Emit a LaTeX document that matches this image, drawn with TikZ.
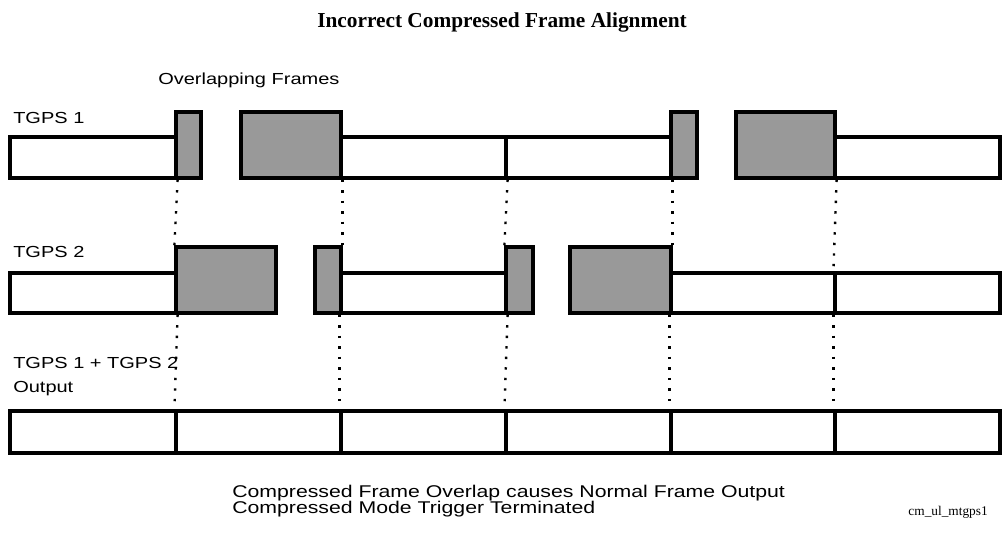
\documentclass[tikz,border=0pt]{standalone}
\usepackage{fontspec}
\usetikzlibrary{positioning, fit}
\newfontfamily\sansfnt{Liberation Sans}[FakeStretch=1.25]
\newfontfamily\seriffnt{Liberation Serif}
\definecolor{FG}{RGB}{153,153,153}

\begin{document}
\begin{tikzpicture}[x=0.75pt, y=-0.75pt,
  nfr/.style={draw=black, fill=white, line width=2.4pt, inner sep=0pt},
  cfr/.style={nfr, fill=FG},
  dots/.style={line width=1.8pt, dash pattern=on 1.8pt off 6.1pt},
  lbl/.style={font=\sansfnt\fontsize{12pt}{18pt}\selectfont, anchor=west,
              inner sep=0pt, align=left}
]
\useasboundingbox (0,0) rectangle (1005,532);

\node[font=\seriffnt\bfseries\fontsize{16pt}{18pt}\selectfont] (title) at (502,22)
  {Incorrect Compressed Frame Alignment};

% TGPS 1
\node[nfr, fit={(10,137) (176,178)}] (a1) {};
\node[nfr, fit={(341,137) (506,178)}] (a4) {};
\node[nfr, fit={(506,137) (671,178)}] (a5) {};
\node[nfr, fit={(835,137) (1000,178)}] (a8) {};
\node[cfr, fit={(176,112) (201,178)}] (a2) {};
\node[cfr, fit={(241,112) (341,178)}] (a3) {};
\node[cfr, fit={(671,112) (697,178)}] (a6) {};
\node[cfr, fit={(736,112) (835,178)}] (a7) {};

% TGPS 2
\node[nfr, fit={(10,273) (176,313)}] (b1) {};
\node[nfr, fit={(341,273) (506,313)}] (b4) {};
\node[nfr, fit={(671,273) (835,313)}] (b7) {};
\node[nfr, fit={(835,273) (1000,313)}] (b8) {};
\node[cfr, fit={(176,247) (276,313)}] (b2) {};
\node[cfr, fit={(315,247) (341,313)}] (b3) {};
\node[cfr, fit={(506,247) (533,313)}] (b5) {};
\node[cfr, fit={(570,247) (671,313)}] (b6) {};

% output
\node[nfr, fit={(10,411) (176,453)}] (c1) {};
\node[nfr, fit={(176,411) (341,453)}] (c2) {};
\node[nfr, fit={(341,411) (506,453)}] (c3) {};
\node[nfr, fit={(506,411) (671,453)}] (c4) {};
\node[nfr, fit={(671,411) (835,453)}] (c5) {};
\node[nfr, fit={(835,411) (1000,453)}] (c6) {};

\draw[dots] (a1.south east) -- (b2.north west);
\draw[dots] (a3.south east) -- (b3.north east);
\draw[dots] (a4.south east) -- (b5.north west);
\draw[dots] (a5.south east) -- (b6.north east);
\draw[dots] (a7.south east) -- (b8.north west);

\draw[dots] (b1.south east) -- (c2.north west);
\draw[dots] (b4.south west) -- (c3.north west);
\draw[dots] (b4.south east) -- (c4.north west);
\draw[dots] (b7.south west) -- (c5.north west);
\draw[dots] (b8.south west) -- (c6.north west);

\node[lbl] (ovl) at (158,80) {Overlapping Frames};
\node[lbl] (t1) at (13,118) {TGPS 1};
\node[lbl] (t2) at (13,252) {TGPS 2};
\node[lbl] (sum) at (13,377) {TGPS 1 + TGPS 2\\Output};

\node[lbl, font=\sansfnt\fontsize{12.75pt}{12.5pt}\selectfont] (note) at (232,501)
  {Compressed Frame Overlap causes Normal Frame Output\\Compressed Mode Trigger Terminated};
\node[font=\seriffnt\fontsize{10pt}{12pt}\selectfont, anchor=east, inner sep=0pt] (tag) at (988,512)
  {cm\_ul\_mtgps1};
\end{tikzpicture}
\end{document}
